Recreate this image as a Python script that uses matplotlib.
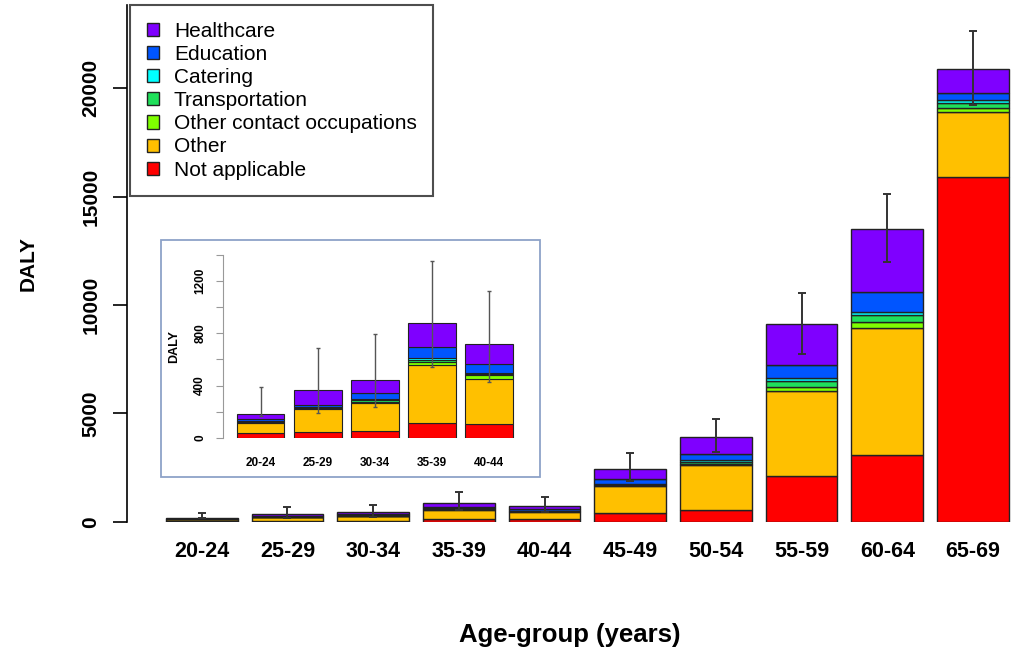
import numpy as np
import matplotlib
matplotlib.use('Agg')
import matplotlib.pyplot as plt
import matplotlib.patches as ptc

plt.rcParams['font.family'] = ['Liberation Sans', 'DejaVu Sans']

# DALY by age-group and occupation
age_groups = ['20-24', '25-29', '30-34', '35-39', '40-44',
              '45-49', '50-54', '55-59', '60-64', '65-69']
not_applicable = [38, 46, 54, 115, 102, 388, 540, 2109, 3078, 15893]
other = [77, 174, 214, 442, 345, 1260, 2076, 3922, 5847, 3014]
other_contact = [5, 6, 8, 22, 33, 30, 60, 200, 310, 200]
transportation = [5, 5, 10, 15, 10, 40, 60, 250, 300, 200]
catering = [5, 4, 12, 20, 8, 40, 110, 130, 150, 140]
education = [10, 15, 46, 82, 66, 200, 300, 600, 923, 337]
healthcare = [40, 112, 95, 185, 152, 470, 750, 1898, 2880, 1126]

# uncertainty interval (lower, upper)
err_low = [165, 191, 237, 539, 429, 1878, 3202, 7739, 11998, 19230]
err_high = [391, 684, 791, 1356, 1126, 3156, 4725, 10540, 15122, 22658]

series = [('Not applicable', not_applicable, '#FF0000'),
          ('Other', other, '#FFC000'),
          ('Other contact occupations', other_contact, '#7FFF00'),
          ('Transportation', transportation, '#1FE05A'),
          ('Catering', catering, '#00FFFF'),
          ('Education', education, '#0055FF'),
          ('Healthcare', healthcare, '#7F00FF')]

W, H = 1013, 647
fig = plt.figure(figsize=(W/100, H/100), dpi=100)


def stacked(ax, idx, width, lw, err_color, err_lw, capsize):
	x = np.arange(len(idx))
	bottom = np.zeros(len(idx))
	handles = []
	for name, vals, col in series:
		v = np.array([vals[i] for i in idx], dtype=float)
		b = ax.bar(x, v, width, bottom=bottom, color=col, edgecolor='#222222',
				   linewidth=lw, label=name, zorder=2)
		handles.append(b)
		bottom = bottom + v
	lo = np.array([err_low[i] for i in idx])
	hi = np.array([err_high[i] for i in idx])
	ax.errorbar(x, bottom, yerr=[bottom - lo, hi - bottom], fmt='none',
				ecolor=err_color, elinewidth=err_lw, capsize=capsize,
				capthick=err_lw, zorder=3)
	return handles


# main panel
ax = fig.add_axes([127/W, 1 - 521.7/H, (W - 127)/W, (521.7 - 5)/H])
handles = stacked(ax, range(10), 0.837, 1.0, '#333333', 1.4, 3)
ax.set_xlim(-0.872, 9.467)
ax.set_ylim(0, 23850)
for s in ['top', 'right', 'bottom']:
	ax.spines[s].set_visible(False)
ax.spines['left'].set_linewidth(1.2)
ax.set_yticks([0, 5000, 10000, 15000, 20000])
ax.set_yticklabels(['0', '5000', '10000', '15000', '20000'],
				   rotation=90, va='center', fontsize=15, fontweight='bold')
ax.tick_params(axis='y', length=10, width=1.2, pad=9)
ax.set_xticks(np.arange(10))
ax.set_xticklabels(age_groups, fontsize=15.5, fontweight='bold')
ax.tick_params(axis='x', length=0, pad=14)
ax.set_ylabel('DALY', fontsize=15, fontweight='bold', labelpad=32)
ax.set_xlabel('Age-group (years)', fontsize=18.5, fontweight='bold', labelpad=44)

leg = fig.legend(handles[::-1], [s[0] for s in series][::-1],
				 loc='upper left', bbox_to_anchor=(130/W, 1 - 5/H),
				 bbox_transform=fig.transFigure, fontsize=15, frameon=True,
				 fancybox=False, borderaxespad=0, borderpad=0.8,
				 labelspacing=0.2, handlelength=0.6, handleheight=0.6,
				 handletextpad=0.7)
leg.get_frame().set_edgecolor('#222222')
leg.get_frame().set_linewidth(1.5)

# inset for the younger age-groups
fig.patches.append(ptc.Rectangle((161/W, 1 - 477/H), (540 - 161)/W, (477 - 240)/H,
								 transform=fig.transFigure, fill=False,
								 edgecolor='#8EA2C8', linewidth=1.3))
ins = fig.add_axes([223/W, 1 - 437.7/H, (530 - 223)/W, (437.7 - 255)/H])
stacked(ins, range(5), 0.83, 0.8, '#555555', 1.0, 1.5)
ins.set_xlim(-0.663, 4.72)
ins.set_ylim(0, 1400)
for s in ['top', 'right', 'bottom']:
	ins.spines[s].set_visible(False)
ins.spines['left'].set_color('#999999')
ins.set_yticks(np.arange(0, 1401, 200))
ins.set_yticklabels(['0', '', '400', '', '800', '', '1200', ''],
					rotation=90, va='center', fontsize=8.5, fontweight='bold')
ins.tick_params(axis='y', length=5, color='#999999', pad=7)
ins.set_xticks(np.arange(5))
ins.set_xticklabels(age_groups[:5], fontsize=8.5, fontweight='bold')
ins.tick_params(axis='x', length=0, pad=14)
ins.set_ylabel('DALY', fontsize=9, fontweight='bold', labelpad=10)

fig.savefig('out.png', dpi=100)
